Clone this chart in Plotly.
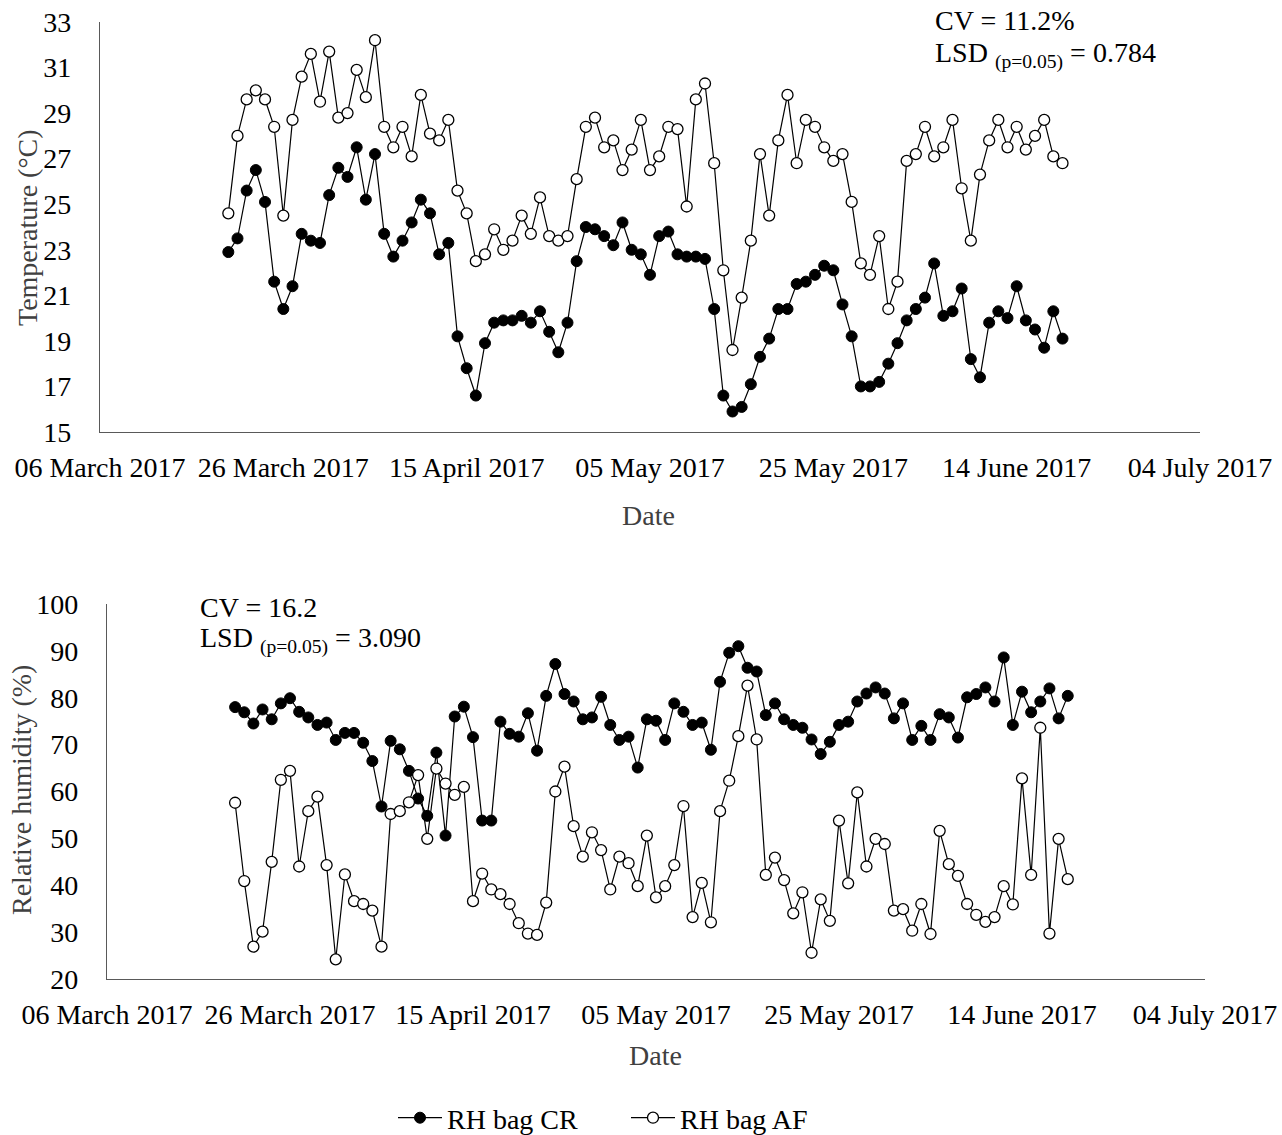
import pandas as pd
import plotly.graph_objects as go

start_date = "2017-03-20"

temp_cr = [22.9, 23.5, 25.6, 26.5, 25.1, 21.6, 20.4, 21.4, 23.7, 23.4, 23.3, 25.4, 26.6, 26.2, 27.5, 25.2,
           27.2, 23.7, 22.7, 23.4, 24.2, 25.2, 24.6, 22.8, 23.3, 19.2, 17.8, 16.6, 18.9, 19.8, 19.9, 19.9,
           20.1, 19.8, 20.3, 19.4, 18.5, 19.8, 22.5, 24.0, 23.9, 23.6, 23.2, 24.2, 23.0, 22.8, 21.9, 23.6,
           23.8, 22.8, 22.7, 22.7, 22.6, 20.4, 16.6, 15.9, 16.1, 17.1, 18.3, 19.1, 20.4, 20.4, 21.5, 21.6,
           21.9, 22.3, 22.1, 20.6, 19.2, 17.0, 17.0, 17.2, 18.0, 18.9, 19.9, 20.4, 20.9, 22.4, 20.1, 20.3,
           21.3, 18.2, 17.4, 19.8, 20.3, 20.0, 21.4, 19.9, 19.5, 18.7, 20.3, 19.1]
temp_af = [24.6, 28.0, 29.6, 30.0, 29.6, 28.4, 24.5, 28.7, 30.6, 31.6, 29.5, 31.7, 28.8, 29.0, 30.9, 29.7,
           32.2, 28.4, 27.5, 28.4, 27.1, 29.8, 28.1, 27.8, 28.7, 25.6, 24.6, 22.5, 22.8, 23.9, 23.0, 23.4,
           24.5, 23.7, 25.3, 23.6, 23.4, 23.6, 26.1, 28.4, 28.8, 27.5, 27.8, 26.5, 27.4, 28.7, 26.5, 27.1,
           28.4, 28.3, 24.9, 29.6, 30.3, 26.8, 22.1, 18.6, 20.9, 23.4, 27.2, 24.5, 27.8, 29.8, 26.8, 28.7,
           28.4, 27.5, 26.9, 27.2, 25.1, 22.4, 21.9, 23.6, 20.4, 21.6, 26.9, 27.2, 28.4, 27.1, 27.5, 28.7,
           25.7, 23.4, 26.3, 27.8, 28.7, 27.5, 28.4, 27.4, 28.0, 28.7, 27.1, 26.8]
rh_cr = [78.0, 76.9, 74.5, 77.5, 75.4, 78.8, 79.9, 77.0, 75.8, 74.2, 74.7, 71.0, 72.5, 72.5, 70.4, 66.5,
         56.8, 70.8, 69.0, 64.4, 58.5, 54.8, 68.3, 50.6, 76.0, 78.1, 71.6, 53.8, 53.8, 74.9, 72.3, 71.7,
         76.7, 68.7, 80.4, 87.2, 80.8, 79.2, 75.4, 75.8, 80.2, 74.2, 71.0, 71.7, 65.1, 75.4, 75.1, 71.0,
         78.8, 77.0, 74.2, 74.7, 68.9, 83.4, 89.6, 91.0, 86.4, 85.6, 76.3, 78.8, 75.4, 74.2, 73.6, 71.1,
         68.0, 70.6, 74.2, 74.9, 79.2, 80.9, 82.2, 80.9, 75.6, 78.8, 71.0, 74.0, 71.0, 76.5, 75.8, 71.5,
         80.1, 80.8, 82.2, 79.2, 88.6, 74.2, 81.3, 76.9, 79.2, 82.0, 75.6, 80.4]
rh_af = [57.6, 40.9, 26.9, 30.1, 45.0, 62.5, 64.4, 44.0, 55.8, 58.9, 44.3, 24.2, 42.3, 36.6, 36.0, 34.6,
         26.9, 55.2, 55.8, 57.7, 63.5, 49.9, 64.9, 61.7, 59.3, 61.0, 36.6, 42.5, 39.1, 38.1, 36.0, 31.9,
         29.7, 29.4, 36.3, 60.0, 65.3, 52.6, 46.1, 51.3, 47.5, 39.1, 46.1, 44.7, 39.8, 50.6, 37.4, 39.8,
         44.3, 56.9, 33.2, 40.5, 32.1, 55.8, 62.3, 71.8, 82.6, 71.1, 42.2, 45.9, 41.1, 34.0, 38.5, 25.6,
         37.0, 32.4, 53.8, 40.4, 59.8, 44.0, 49.9, 48.8, 34.6, 34.9, 30.3, 36.0, 29.6, 51.6, 44.5, 42.0,
         36.0, 33.7, 32.2, 33.2, 39.8, 35.9, 62.8, 42.2, 73.6, 29.7, 49.9, 41.3]

tick_dates = ["2017-03-06", "2017-03-26", "2017-04-15", "2017-05-05", "2017-05-25", "2017-06-14", "2017-07-04"]
tick_labels = ["06 March 2017", "26 March 2017", "15 April 2017", "05 May 2017", "25 May 2017",
               "14 June 2017", "04 July 2017"]

dates = pd.date_range(start_date, periods=len(temp_cr))

W, H = 1282, 1135
FONT = "Liberation Serif"
FS = 28
AXC = "#595959"

def fx(px):
    return px / W

def fy(py):
    return 1 - py / H

filled = dict(symbol="circle", size=11, color="black", line=dict(color="black", width=1))
hollow = dict(symbol="circle", size=11, color="white", line=dict(color="black", width=1.3))
ln = dict(color="black", width=1.2)

fig = go.Figure()
fig.add_trace(go.Scatter(x=dates, y=temp_cr, mode="lines+markers", marker=filled, line=ln,
                         xaxis="x", yaxis="y", showlegend=False, name="Temp bag CR"))
fig.add_trace(go.Scatter(x=dates, y=temp_af, mode="lines+markers", marker=hollow, line=ln,
                         xaxis="x", yaxis="y", showlegend=False, name="Temp bag AF"))
fig.add_trace(go.Scatter(x=dates, y=rh_cr, mode="lines+markers", marker=filled, line=ln,
                         xaxis="x2", yaxis="y2", name="RH bag CR"))
fig.add_trace(go.Scatter(x=dates, y=rh_af, mode="lines+markers", marker=hollow, line=ln,
                         xaxis="x2", yaxis="y2", name="RH bag AF"))

xcommon = dict(type="date", range=[tick_dates[0], tick_dates[-1]], tickmode="array",
               tickvals=tick_dates, ticktext=tick_labels, showgrid=False, zeroline=False,
               showline=True, linecolor=AXC, linewidth=1.3, ticks="", ticklabelstandoff=10,
               automargin=False, tickfont=dict(family=FONT, size=FS, color="black"))
ycommon = dict(showgrid=False, zeroline=False, showline=True, linecolor=AXC, linewidth=1.3,
               ticks="", ticklabelstandoff=22, automargin=False,
               tickfont=dict(family=FONT, size=FS, color="black"))

fig.update_layout(
    template="none",
    width=W, height=H,
    margin=dict(l=0, r=0, t=0, b=0, autoexpand=False),
    paper_bgcolor="white", plot_bgcolor="white",
    font=dict(family=FONT, size=FS, color="black"),
    xaxis=dict(domain=[fx(100), fx(1200)], anchor="y", **xcommon),
    yaxis=dict(domain=[fy(432), fy(22)], anchor="x", range=[15, 33], dtick=2, tick0=15, **ycommon),
    xaxis2=dict(domain=[fx(107), fx(1205)], anchor="y2", **xcommon),
    yaxis2=dict(domain=[fy(979), fy(604)], anchor="x2", range=[20, 100], dtick=10, tick0=20, **ycommon),
    legend=dict(orientation="h", x=fx(393), xanchor="left", y=fy(1118), yanchor="middle",
                font=dict(family=FONT, size=FS, color="black"), bgcolor="rgba(0,0,0,0)",
                itemwidth=44, entrywidth=174, entrywidthmode="pixels", tracegroupgap=0),
    showlegend=True,
)

annos = [
    dict(text="CV = 11.2%", x=fx(933), y=fy(20)),
    dict(text="LSD <sub>(p=0.05)</sub> = 0.784", x=fx(933), y=fy(55)),
    dict(text="CV = 16.2", x=fx(198), y=fy(607)),
    dict(text="LSD <sub>(p=0.05)</sub> = 3.090", x=fx(198), y=fy(640)),
]
for a in annos:
    fig.add_annotation(xref="paper", yref="paper", xanchor="left", yanchor="middle", showarrow=False,
                       font=dict(family=FONT, size=FS, color="black"), **a)

titles = [
    dict(text="Temperature (°C)", x=fx(27), y=fy(228), textangle=-90),
    dict(text="Relative humidity (%)", x=fx(21), y=fy(790), textangle=-90),
    dict(text="Date", x=fx(648), y=fy(515), textangle=0),
    dict(text="Date", x=fx(655), y=fy(1055), textangle=0),
]
for t in titles:
    fig.add_annotation(xref="paper", yref="paper", xanchor="center", yanchor="middle", showarrow=False,
                       font=dict(family=FONT, size=FS, color="#404040"), **t)

fig.write_html("out.html")
